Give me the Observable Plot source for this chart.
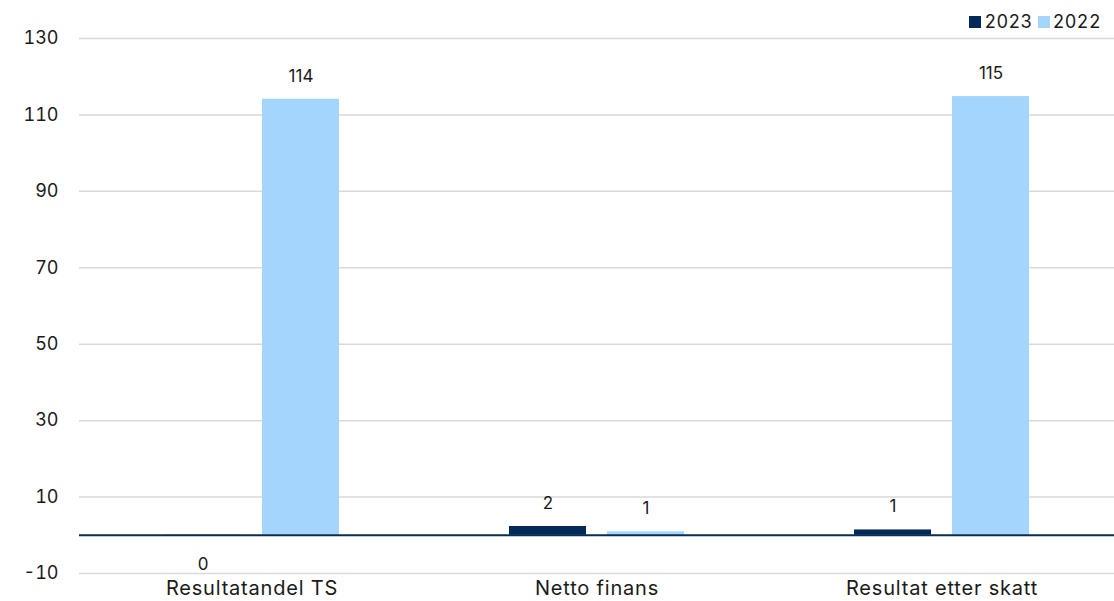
<!DOCTYPE html>
<html>
<head>
<meta charset="utf-8">
<script src="https://cdn.jsdelivr.net/npm/d3@7"></script>
<script src="https://cdn.jsdelivr.net/npm/@observablehq/plot@0.6"></script>
<style>
  html, body { margin: 0; padding: 0; background: #fff; }
  body { width: 1114px; height: 601px; position: relative; overflow: hidden; font-family: Inter, "Noto Sans", sans-serif; }
  #legend { position: absolute; top: 11px; right: 13px; display: flex; align-items: center; font-size: 18px; color: #1a1a1a; font-variant-numeric: tabular-nums; letter-spacing: 0.4px; }
  #legend .sw { width: 12px; height: 12px; display: inline-block; margin-right: 3px; }
  #legend .item { display: flex; align-items: center; margin-left: 5px; }
  g[aria-label="fx-axis tick label"] { letter-spacing: 0.8px; }
  g[aria-label="y-axis tick label"] { font-variant-numeric: tabular-nums; }
</style>
</head>
<body>
<div id="chart"></div>
<div id="legend"></div>
<script>
const categories = ["Resultatandel TS", "Netto finans", "Resultat etter skatt"];
const years = ["2023", "2022"];
const values2023 = [-0.3, 2.3, 1.4];
const values2022 = [114.1, 0.9, 114.8];
const yTicks = [-10, 10, 30, 50, 70, 90, 110, 130];
const colors = ["#03295a", "#a3d5fd"];

const data = [];
categories.forEach((c, i) => {
  data.push({cat: c, year: "2023", value: values2023[i]});
  data.push({cat: c, year: "2022", value: values2022[i]});
});
const label = d => String(Math.round(d.value));

const font = "Inter, 'Noto Sans', sans-serif";

const chart = Plot.plot({
  width: 1114,
  height: 601,
  marginLeft: 78,
  marginRight: 0,
  marginTop: 38,
  marginBottom: 28,
  style: {fontFamily: font, fontSize: "16px", color: "#1a1a1a", background: "transparent"},
  fx: {domain: categories, padding: 0},
  x: {domain: years, axis: null, paddingInner: 0.214, paddingOuter: 0.867},
  y: {domain: [-10, 130]},
  color: {domain: years, range: colors},
  marks: [
    Plot.ruleY(yTicks, {stroke: "#d9d9d9", strokeWidth: 1.5}),
    Plot.axisY(yTicks, {tickSize: 0, tickPadding: 21, label: null, fontSize: 18, tickFormat: d => String(d)}),
    Plot.axisFx({anchor: "bottom", tickSize: 0, tickPadding: 7, label: null, fontSize: 20}),
    Plot.barY(data, {fx: "cat", x: "year", y: "value", fill: "year"}),
    Plot.ruleY([0], {stroke: "#0b2b55", strokeWidth: 2}),
    Plot.text(data.filter(d => d.value >= 0), {fx: "cat", x: "year", y: "value", text: label, dy: -23, fontSize: 17, fill: "#1a1a1a"}),
    Plot.text(data.filter(d => d.value < 0), {fx: "cat", x: "year", y: "value", text: label, dy: 28, fontSize: 17, fill: "#1a1a1a"})
  ]
});
document.getElementById("chart").appendChild(chart);

const legend = document.getElementById("legend");
years.forEach((y, i) => {
  const item = document.createElement("span");
  item.className = "item";
  const sw = document.createElement("span");
  sw.className = "sw";
  sw.style.background = colors[i];
  item.appendChild(sw);
  item.appendChild(document.createTextNode(y));
  legend.appendChild(item);
});
</script>
</body>
</html>
